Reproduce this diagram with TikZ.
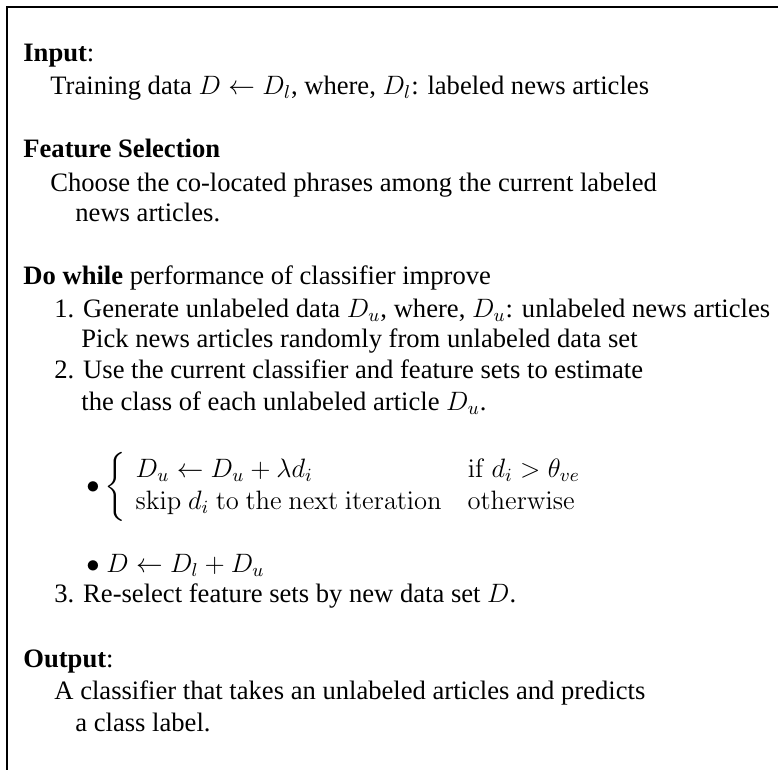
\documentclass[tikz,border=0pt]{standalone}
\usepackage{fix-cm}
\usepackage{amsmath}
\usepackage[no-math]{fontspec}
\setmainfont{Liberation Serif}
\usetikzlibrary{positioning}

\begin{document}
\begin{tikzpicture}[x=0.5pt, y=-0.5pt, every node/.style={font=\fontsize{13.3}{16}\selectfont}, txt/.style={anchor=base west,inner sep=0pt}, frame/.style={line width=1pt}]
\useasboundingbox (0,0) rectangle (778,770);
\draw[frame] (778,7) -- (7,7) -- (7,770);
\node[txt] (input) at (23,62) {\textbf{Input}:};
\node[txt] (training) at (50,95) {Training data $D\leftarrow D_l$, where, $D_l$: labeled news articles};
\node[txt] (featsel) at (23,158) {\textbf{Feature Selection}};
\node[txt] (choose) at (50,192) {Choose the co-located phrases among the current labeled};
\node[txt] (choosecont) at (75,222) {news articles.};
\node[txt] (dowhile) at (23,285) {\textbf{Do while} performance of classifier improve};
\node[txt] (generate) at (54,318) {1. Generate unlabeled data $D_u$, where, $D_u$: unlabeled news articles};
\node[txt] (pick) at (81,348) {Pick news articles randomly from unlabeled data set};
\node[txt] (estimate) at (54,379) {2. Use the current classifier and feature sets to estimate};
\node[txt] (estimatecont) at (81,411) {the class of each unlabeled article $D_u$.};
\node[txt] (cases) at (86,494) {$\bullet\left\{\begin{array}{l@{\hspace{13pt}}l} D_u\leftarrow D_u+\lambda d_i & \mathrm{if}\ d_i>\theta_{ve}\\ \mathrm{skip}\ d_i\ \mathrm{to\ the\ next\ iteration} & \mathrm{otherwise}\end{array}\right.$};
\node[txt] (merge) at (86,573) {$\bullet\ D\leftarrow D_l+D_u$};
\node[txt] (reselect) at (54,603) {3. Re-select feature sets by new data set $D$.};
\node[txt] (output) at (23,668) {\textbf{Output}:};
\node[txt] (predict) at (54,700) {A classifier that takes an unlabeled articles and predicts};
\node[txt] (predictcont) at (75,732) {a class label.};
\end{tikzpicture}
\end{document}
